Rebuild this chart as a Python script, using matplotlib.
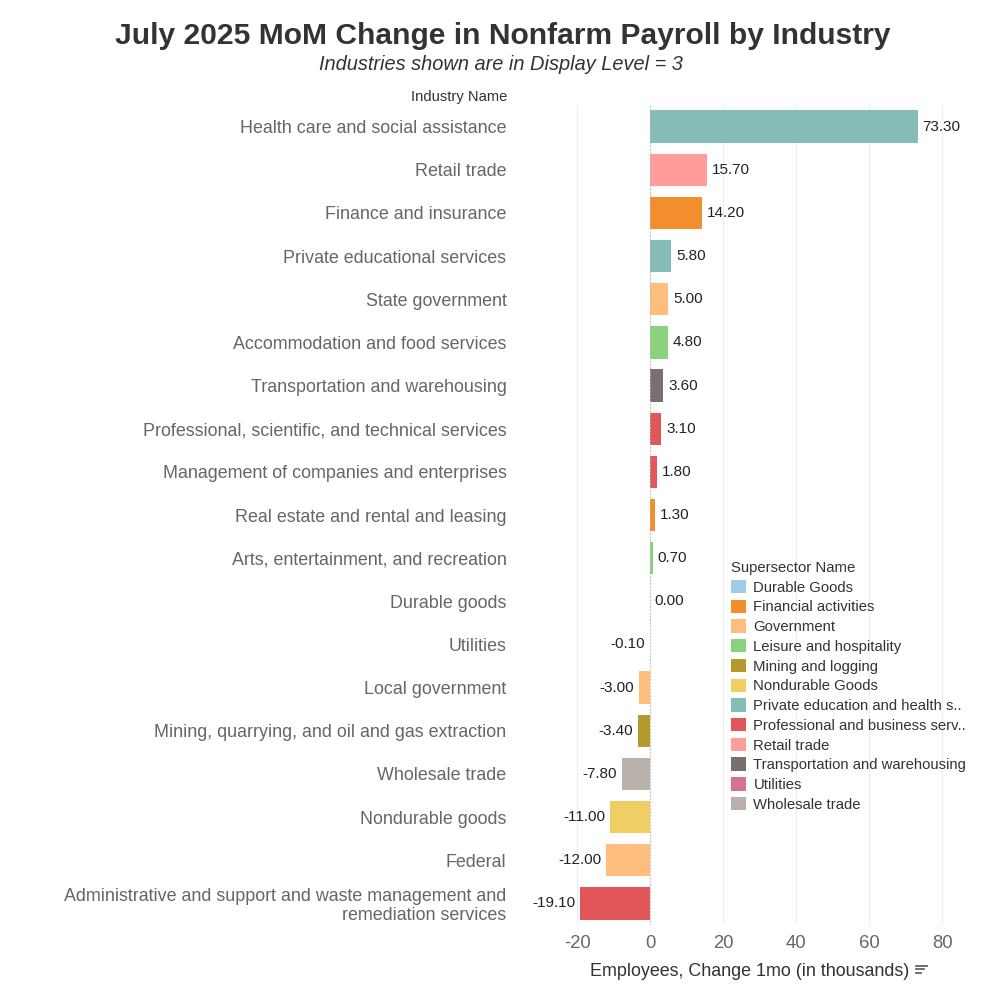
import matplotlib.pyplot as plt
from matplotlib.patches import Patch
from matplotlib.lines import Line2D

industries = [
    "Health care and social assistance",
    "Retail trade",
    "Finance and insurance",
    "Private educational services",
    "State government",
    "Accommodation and food services",
    "Transportation and warehousing",
    "Professional, scientific, and technical services",
    "Management of companies and enterprises",
    "Real estate and rental and leasing",
    "Arts, entertainment, and recreation",
    "Durable goods",
    "Utilities",
    "Local government",
    "Mining, quarrying, and oil and gas extraction",
    "Wholesale trade",
    "Nondurable goods",
    "Federal",
    "Administrative and support and waste management and\nremediation services",
]
changes = [73.3, 15.7, 14.2, 5.8, 5.0, 4.8, 3.6, 3.1, 1.8, 1.3, 0.7, 0.0,
           -0.1, -3.0, -3.4, -7.8, -11.0, -12.0, -19.1]
supersectors = [
    "Private education and health s..", "Retail trade", "Financial activities",
    "Private education and health s..", "Government", "Leisure and hospitality",
    "Transportation and warehousing", "Professional and business serv..",
    "Professional and business serv..", "Financial activities",
    "Leisure and hospitality", "Durable Goods", "Utilities", "Government",
    "Mining and logging", "Wholesale trade", "Nondurable Goods", "Government",
    "Professional and business serv..",
]
legend_names = [
    "Durable Goods", "Financial activities", "Government", "Leisure and hospitality",
    "Mining and logging", "Nondurable Goods", "Private education and health s..",
    "Professional and business serv..", "Retail trade",
    "Transportation and warehousing", "Utilities", "Wholesale trade",
]
legend_colors = [
    "#A0CBE8", "#F28E2B", "#FFBE7D", "#8CD17D", "#B6992D", "#F1CE63",
    "#86BCB6", "#E15759", "#FF9D9A", "#79706E", "#D37295", "#BAB0AC",
]
color_of = dict(zip(legend_names, legend_colors))

plt.rcParams['font.family'] = ['Liberation Sans', 'DejaVu Sans']
plt.rcParams['axes.unicode_minus'] = False
fig = plt.figure(figsize=(10, 10), dpi=100)
ax = fig.add_axes([0.512, 0.075, 0.476, 0.82])

ypos = list(range(len(industries)))
ax.barh(ypos, changes, height=0.75, color=[color_of[s] for s in supersectors])
ax.set_ylim(len(industries) - 0.5, -0.5)
ax.set_xlim(-37.8, 92.5)
ax.set_xticks([-20, 0, 20, 40, 60, 80])
ax.set_yticks(ypos)
ax.set_yticklabels(industries, fontsize=12.9, color="#666666", linespacing=1.15)
ax.tick_params(axis='x', labelsize=13.3, colors="#666666", length=0, pad=7)
ax.tick_params(axis='y', length=0, pad=4)
ax.grid(axis='x', color="#eeeeee", linewidth=0.8)
ax.set_axisbelow(True)
for sp in ax.spines.values():
    sp.set_visible(False)
ax.axvline(0, color="#bbbbbb", linestyle=":", linewidth=0.9)

for y, v in zip(ypos, changes):
    if v >= 0:
        ax.text(v + 1.3, y, f"{v:.2f}", va='center', ha='left', fontsize=11, color="#222222")
    else:
        ax.text(v - 1.3, y, f"{v:.2f}", va='center', ha='right', fontsize=11, color="#222222")

ax.set_xlabel("Employees, Change 1mo (in thousands)", fontsize=12.9, color="#333333", labelpad=8)
# sort icon next to axis title
for i, w in enumerate([0.011, 0.008, 0.005]):
    yy = 0.0345 - i * 0.0035
    fig.add_artist(Line2D([0.916, 0.916 + w], [yy, yy], color="#555555", linewidth=1.2))

fig.text(0.507, 0.903, "Industry Name", ha='right', va='center', fontsize=10.6, color="#333333")
fig.text(0.503, 0.964, "July 2025 MoM Change in Nonfarm Payroll by Industry",
         ha='center', va='center', fontsize=21.6, fontweight='bold', color="#333333")
fig.text(0.501, 0.935, "Industries shown are in Display Level = 3",
         ha='center', va='center', fontsize=14.4, style='italic', color="#333333")

handles = [Patch(facecolor=c, edgecolor='none') for c in legend_colors]
leg = fig.legend(handles, legend_names, title="Supersector Name", loc='upper left',
                 bbox_to_anchor=(0.731, 0.439), frameon=False, fontsize=10.75,
                 title_fontsize=10.75, handlelength=1.0, handleheight=1.0,
                 handletextpad=0.5, labelspacing=0.33, borderaxespad=0, borderpad=0)
leg._legend_box.align = "left"
for t in leg.get_texts():
    t.set_color("#333333")
leg.get_title().set_color("#333333")

fig.savefig("out.png", dpi=100)
